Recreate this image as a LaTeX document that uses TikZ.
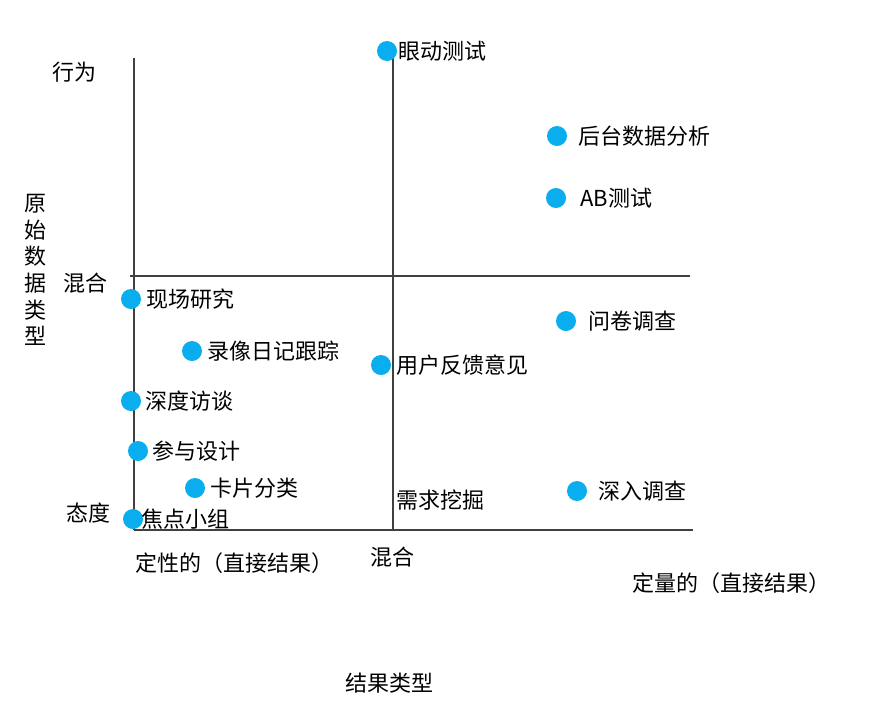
\documentclass[tikz,border=0pt]{standalone}
\usepackage{fontspec}
\setmainfont{Noto Sans CJK SC}
\begin{document}
\begin{tikzpicture}[x=0.75pt,y=-0.75pt,
  dot/.style={circle,draw=none,minimum size=15pt,inner sep=0pt},
  lbl/.style={anchor=west,inner sep=0pt,font=\fontsize{16.5pt}{18pt}\selectfont},
  ax/.style={draw=black!75,line width=0.8pt}]
\definecolor{dotc}{HTML}{0AAEEF}
\tikzset{dot/.append style={fill=dotc}}
\useasboundingbox (0,0) rectangle (870,704);
\coordinate (v1) at (134,58); \coordinate (v2) at (134,530);
\coordinate (h1) at (134,530); \coordinate (h2) at (693,530);
\coordinate (m1) at (130,276); \coordinate (m2) at (690,276);
\coordinate (c1) at (393,50); \coordinate (c2) at (393,530);
\draw[ax] (v1)--(v2); \draw[ax] (h1)--(h2); \draw[ax] (m1)--(m2); \draw[ax] (c1)--(c2);
\foreach \n/\x/\y/\tx/\t in {a/387/51/398/眼动测试, b/557/136/578/后台数据分析, c/556/198/580/AB测试,
 d/131/299/146/现场研究, e/566/321/588/问卷调查, f/192/351/207/录像日记跟踪, g/381/365/396/用户反馈意见,
 h/131/401/145/深度访谈, i/138/451/152/参与设计, j/195/488/210/卡片分类, k/577/491/598/深入调查, l/133/519/141/焦点小组}{
 \node[dot] (\n) at (\x,\y) {};
 \node[lbl] (t\n) at (\tx,\y) {\t};
}
\node[lbl] (q) at (396,500) {需求挖掘};
\node[lbl] (y1) at (52,72) {行为};
\node[lbl] (y2) at (63,283) {混合};
\node[lbl] (y3) at (66,513) {态度};
\node[inner sep=0pt,align=center,font=\fontsize{16.5pt}{20pt}\selectfont] (yt) at (35,270) {原\\始\\数\\据\\类\\型};
\node[lbl] (x1) at (135,563) {定性的（直接结果）};
\node[lbl] (x2) at (370,557) {混合};
\node[lbl] (x3) at (632,583) {定量的（直接结果）};
\node[lbl] (xt) at (345,683) {结果类型};
\end{tikzpicture}
\end{document}
